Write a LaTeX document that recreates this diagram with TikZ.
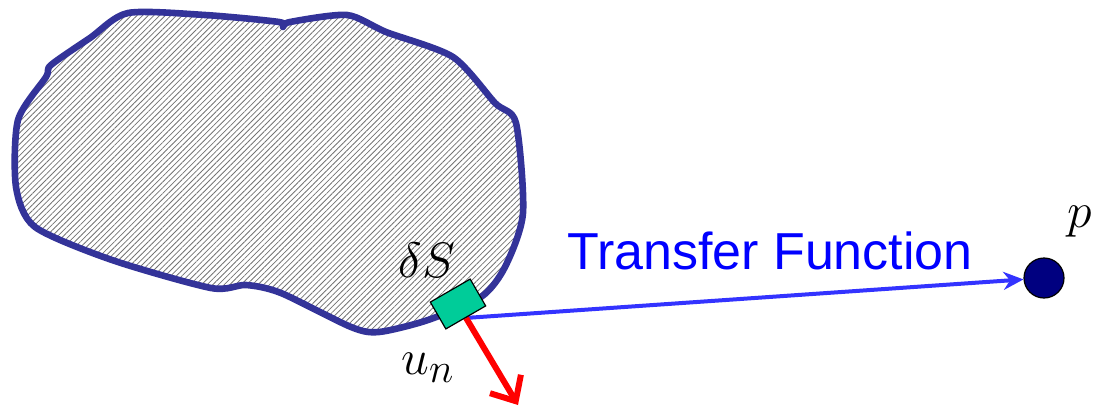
\documentclass[tikz,border=0pt]{standalone}
\usepackage{fontspec}
\usepackage{tikz}
\usetikzlibrary{arrows.meta,positioning,backgrounds,patterns.meta}
\newfontfamily\labelfont{Liberation Sans}
\definecolor{rim}{HTML}{333399}
\definecolor{patch}{HTML}{00CC99}
\definecolor{ray}{HTML}{3333FF}
\definecolor{probe}{HTML}{000080}

\begin{document}
\begin{tikzpicture}[x=0.5pt,y=-0.5pt,
  body/.style={draw=rim,line width=3.3pt,line join=round,
    pattern={Lines[angle=45,distance=2pt,line width=0.4pt]},pattern color=black!55},
  elem/.style={draw=black,fill=patch,line width=0.6pt,minimum width=23pt,minimum height=15.5pt,inner sep=0pt,rotate=30},
  pt/.style={circle,draw=black,fill=probe,line width=0.6pt,minimum size=20pt,inner sep=0pt},
  tf/.style={-{Stealth[length=10pt,width=9pt]},line width=2pt,color=ray},
  vel/.style={-{Straight Barb[length=10pt,width=18pt]},line width=3pt,color=red},
  sym/.style={font=\fontsize{28}{32}\selectfont}]
  \useasboundingbox (0,0) rectangle (1093,407);
  % surface element and field point
  \node[elem] (dS) at (458,304) {};
  \node[pt] (p) at (1044,278) {};
  \coordinate (tip) at (518,405);
  \node[sym] (dSlab) at (427,260) {$\delta S$};
  \node[sym] (unlab) at (428,368) {$u_n$};
  \node[sym] (plab) at (1080,222) {$p$};
  \node[font=\labelfont\fontsize{26}{30}\selectfont,color=blue] (tflab) at (770,251) {Transfer Function};
  \begin{scope}[on background layer]
    % vibrating body
    \draw[body] plot[smooth cycle,tension=0.45] coordinates {
      (128,13) (205,15) (279,22) (283,27) (290,22) (347,15) (386,32) (453,57)
      (495,103) (516,123) (523,213) (505,267) (481,297) (428,320) (379,332)
      (351,327) (281,293) (246,285) (211,288) (112,260) (35,227) (16,187)
      (18,120) (46,77) (51,65) (90,38)};
    \draw[tf] (dS.south) -- (p);
    \draw[vel] (dS.south) -- (tip);
  \end{scope}
\end{tikzpicture}
\end{document}
